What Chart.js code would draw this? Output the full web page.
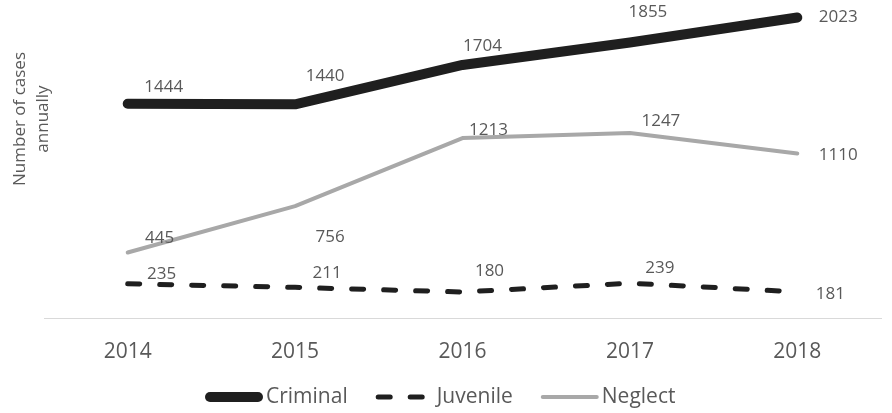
<!DOCTYPE html>
<html>
<head>
<meta charset="utf-8">
<script src="https://cdn.jsdelivr.net/npm/chart.js@4.4.1/dist/chart.umd.min.js"></script>
<style>
  html, body { margin: 0; padding: 0; background: #fff; }
  #wrap { width: 892px; height: 413px; }
</style>
</head>
<body>
<div id="wrap"><canvas id="casos" width="892" height="413"></canvas></div>
<script>
var years = ['2014', '2015', '2016', '2017', '2018']
var criminal = [1444, 1440, 1704, 1855, 2023]
var juvenile = [235, 211, 180, 239, 181]
var neglect = [445, 756, 1213, 1247, 1110]
var yTitle = ['Number of cases', 'annually']

var textColor = '#595959'
var font = '"Open Sans", "DejaVu Sans", sans-serif'

// label offsets (dx, dy) from each point, per series
var labelOffsets = [
  [[36, -17], [30, -28], [20, -19], [18, -30], [41, 0]],
  [[34, -10], [32, -14], [27, -21], [30, -15], [33, 2]],
  [[32, -14], [35, 31], [26, -8], [31, -12], [41, 2]],
]

var valueLabels = {
  id: 'valueLabels',
  afterDatasetsDraw: function (chart) {
    var ctx = chart.ctx
    ctx.save()
    ctx.font = '17px ' + font
    ctx.fillStyle = textColor
    ctx.textAlign = 'center'
    ctx.textBaseline = 'middle'
    chart.data.datasets.forEach(function (ds, i) {
      var meta = chart.getDatasetMeta(i)
      meta.data.forEach(function (pt, j) {
        var off = labelOffsets[i][j]
        ctx.fillText(String(ds.data[j]), pt.x + off[0], pt.y + off[1])
      })
    })
    ctx.restore()
  },
}

// rotated two-line axis title on the left
var sideTitle = {
  id: 'sideTitle',
  afterDraw: function (chart) {
    var ctx = chart.ctx
    ctx.save()
    ctx.font = '17px ' + font
    ctx.fillStyle = textColor
    ctx.textAlign = 'center'
    ctx.textBaseline = 'middle'
    ctx.translate(0, 119)
    ctx.rotate(-Math.PI / 2)
    ctx.fillText(yTitle[0], 0, 20)
    ctx.fillText(yTitle[1], 0, 43)
    ctx.restore()
  },
}

// legend with line samples under the axis
var lineLegend = {
  id: 'lineLegend',
  afterDraw: function (chart) {
    var ctx = chart.ctx
    var x = 205
    var y = 397
    ctx.save()
    ctx.font = '21px ' + font
    ctx.textBaseline = 'middle'
    chart.data.datasets.forEach(function (ds) {
      var w = ds.borderWidth
      ctx.beginPath()
      ctx.lineWidth = w
      ctx.lineCap = 'round'
      ctx.strokeStyle = ds.borderColor
      ctx.setLineDash(ds.borderDash || [])
      ctx.moveTo(x + w / 2, y)
      ctx.lineTo(x + 58 - w / 2, y)
      ctx.stroke()
      ctx.setLineDash([])
      ctx.fillStyle = textColor
      ctx.fillText(ds.label, x + 61, y)
      x += 61 + ctx.measureText(ds.label).width + 28
    })
    ctx.restore()
  },
}

var chart = new Chart(document.getElementById('casos').getContext('2d'), {
  type: 'line',
  data: {
    labels: years,
    datasets: [
      {
        label: 'Criminal',
        data: criminal,
        borderColor: '#1f1f1f',
        borderWidth: 10,
        borderCapStyle: 'round',
        borderJoinStyle: 'round',
        pointRadius: 0,
        clip: false,
      },
      {
        label: 'Juvenile',
        data: juvenile,
        borderColor: '#1f1f1f',
        borderWidth: 5,
        borderDash: [12, 20],
        borderCapStyle: 'round',
        pointRadius: 0,
        clip: false,
      },
      {
        label: 'Neglect',
        data: neglect,
        borderColor: '#a8a8a8',
        borderWidth: 4,
        borderCapStyle: 'round',
        borderJoinStyle: 'round',
        pointRadius: 0,
        clip: false,
      },
    ],
  },
  options: {
    responsive: false,
    animation: false,
    layout: {
      padding: { left: 44, right: 11, top: 6, bottom: 27 },
    },
    plugins: {
      legend: { display: false },
      tooltip: { enabled: false },
    },
    scales: {
      x: {
        offset: true,
        grid: { display: false, drawTicks: false },
        border: { display: true, color: '#d9d9d9', width: 1 },
        ticks: {
          color: textColor,
          padding: 21,
          font: { family: font, size: 21 },
        },
      },
      y: {
        display: false,
        min: 0,
        max: 2100,
      },
    },
  },
  plugins: [valueLabels, sideTitle, lineLegend],
})
</script>
</body>
</html>
